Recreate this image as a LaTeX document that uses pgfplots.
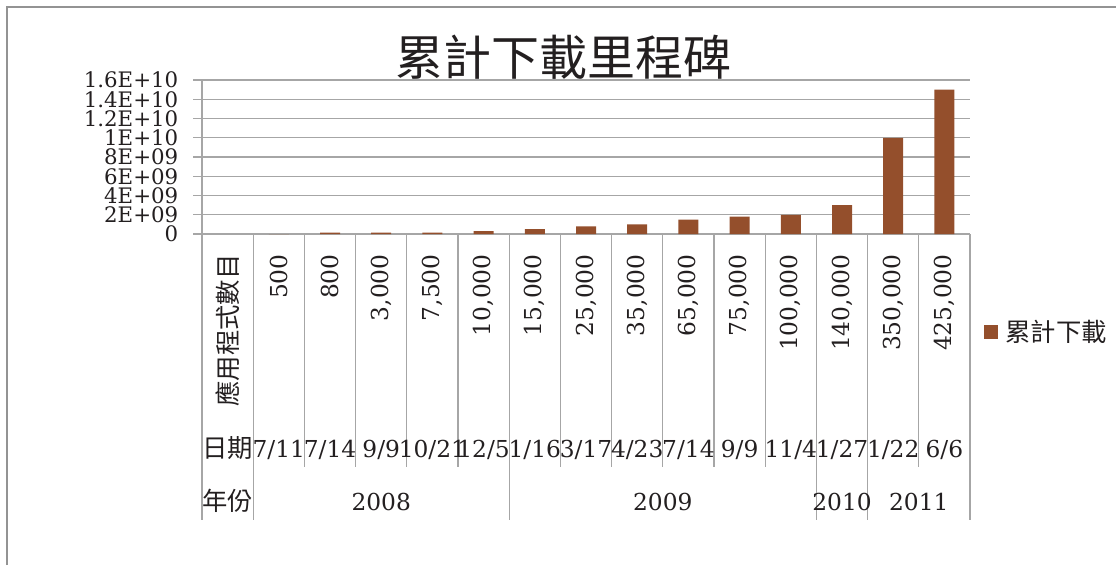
\documentclass[border=0pt]{standalone}
\usepackage{fontspec}
\usepackage{pgfplots}
\pgfplotsset{compat=1.18}
\setmainfont{DejaVu Serif}
\newfontfamily\cjk{Noto Sans CJK TC}
\definecolor{barcol}{RGB}{148,79,44}
\definecolor{gridcol}{RGB}{166,166,166}
\definecolor{txt}{RGB}{35,31,32}
\newcommand\numf{\fontsize{16}{16}\selectfont}
\newcommand\catf{\fontsize{17.5}{17.5}\selectfont}
\newcommand\cjkf{\cjk\fontsize{19}{19}\selectfont}
\begin{document}
\begin{tikzpicture}
\useasboundingbox (0,0) rectangle (837pt,-423.75pt);
\draw[draw=gray!85, line width=1.5pt] (5.25pt,-423.75pt) -- (5.25pt,-5.25pt) -- (837pt,-5.25pt);
\begin{axis}[
  at={(151.5pt,-175.5pt)}, anchor=south west,
  scale only axis, width=576pt, height=115.5pt,
  xmin=-0.5, xmax=14.5, ymin=0, ymax=1.6e10,
  axis lines*=left,
  axis line style={draw=gridcol, line width=0.9pt},
  clip=false,
  ybar, bar width=15pt,
  tick align=outside, major tick length=6.75pt,
  scaled y ticks=false,
  ytick={0,2e9,4e9,6e9,8e9,1e10,1.2e10,1.4e10,1.6e10},
  yticklabels={0,2E+09,4E+09,6E+09,8E+09,1E+10,1.2E+10,1.4E+10,1.6E+10},
  ytick style={draw=gridcol, line width=0.9pt},
  yticklabel style={font=\numf, text=txt, xshift=-7.5pt},
  ymajorgrids, grid style={draw=gridcol, line width=0.9pt},
  xtick={0,...,14}, xtick style={draw=none},
  xticklabels={{\cjkf 應用程式數目},500,800,{3,000},{7,500},{10,000},{15,000},{25,000},{35,000},{65,000},{75,000},{100,000},{140,000},{350,000},{425,000}},
  xticklabel style={rotate=90, anchor=east, font=\catf, text=txt},
  xticklabel shift=5pt,
  title={累計下載里程碑},
  title style={at={(0.471,1)}, anchor=base, yshift=-2.5pt, font=\cjk\fontsize{36}{36}\selectfont, text=txt},
  legend style={at={(1.013,-0.636)}, anchor=west, draw=none, fill=none, font=\cjkf, text=txt},
  legend image code/.code={\fill[barcol] (0pt,-5pt) rectangle (10pt,5pt); \path (14pt,0pt);},
]
\addplot[fill=barcol, draw=none] coordinates {
  (1,0) (2,1.5e8) (3,1.5e8) (4,1.5e8) (5,3e8) (6,5e8) (7,8e8) (8,1e9)
  (9,1.5e9) (10,1.8e9) (11,2e9) (12,3e9) (13,1e10) (14,1.5e10)};
\addlegendentry{累計下載}
% category separators
\pgfplotsinvokeforeach{1.5,2.5,3.5,4.5,6.5,7.5,8.5,9.5,10.5,13.5}{
  \draw[gridcol, line width=0.8pt] (axis cs:#1,0) -- ++(0pt,-174.75pt);}
\pgfplotsinvokeforeach{-0.5,0.5,5.5,11.5,12.5,14.5}{
  \draw[gridcol, line width=0.8pt] (axis cs:#1,0) -- ++(0pt,-214.5pt);}
% date row
\node[anchor=base, yshift=-167.25pt, font=\cjkf, text=txt] at (axis cs:0,0) {日期};
\node[anchor=base, yshift=-167.25pt, font=\catf, text=txt] at (axis cs:1,0) {7/11};
\node[anchor=base, yshift=-167.25pt, font=\catf, text=txt] at (axis cs:2,0) {7/14};
\node[anchor=base, yshift=-167.25pt, font=\catf, text=txt] at (axis cs:3,0) {9/9};
\node[anchor=base, yshift=-167.25pt, font=\catf, text=txt] at (axis cs:4,0) {10/21};
\node[anchor=base, yshift=-167.25pt, font=\catf, text=txt] at (axis cs:5,0) {12/5};
\node[anchor=base, yshift=-167.25pt, font=\catf, text=txt] at (axis cs:6,0) {1/16};
\node[anchor=base, yshift=-167.25pt, font=\catf, text=txt] at (axis cs:7,0) {3/17};
\node[anchor=base, yshift=-167.25pt, font=\catf, text=txt] at (axis cs:8,0) {4/23};
\node[anchor=base, yshift=-167.25pt, font=\catf, text=txt] at (axis cs:9,0) {7/14};
\node[anchor=base, yshift=-167.25pt, font=\catf, text=txt] at (axis cs:10,0) {9/9};
\node[anchor=base, yshift=-167.25pt, font=\catf, text=txt] at (axis cs:11,0) {11/4};
\node[anchor=base, yshift=-167.25pt, font=\catf, text=txt] at (axis cs:12,0) {1/27};
\node[anchor=base, yshift=-167.25pt, font=\catf, text=txt] at (axis cs:13,0) {1/22};
\node[anchor=base, yshift=-167.25pt, font=\catf, text=txt] at (axis cs:14,0) {6/6};
% year row
\node[anchor=base, yshift=-207pt, font=\cjkf, text=txt] at (axis cs:0,0) {年份};
\node[anchor=base, yshift=-207pt, font=\catf, text=txt] at (axis cs:3,0) {2008};
\node[anchor=base, yshift=-207pt, font=\catf, text=txt] at (axis cs:8.5,0) {2009};
\node[anchor=base, yshift=-207pt, font=\catf, text=txt] at (axis cs:12,0) {2010};
\node[anchor=base, yshift=-207pt, font=\catf, text=txt] at (axis cs:13.5,0) {2011};
\end{axis}
\end{tikzpicture}
\end{document}
